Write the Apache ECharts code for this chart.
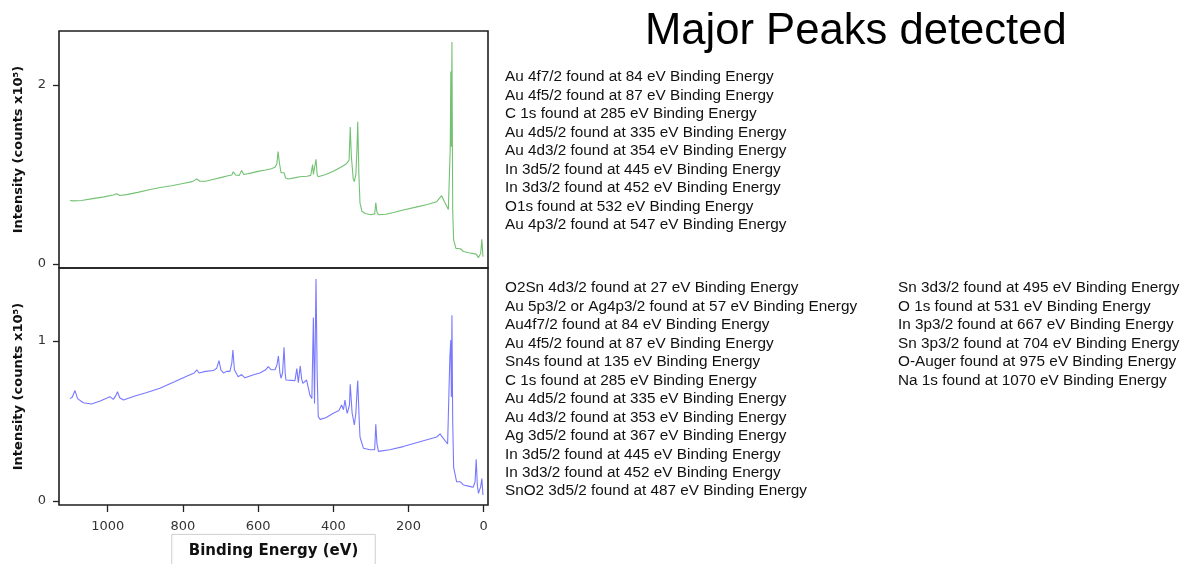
<!DOCTYPE html>
<html>
<head>
<meta charset="utf-8">
<script src="https://cdn.jsdelivr.net/npm/echarts@6/dist/echarts.min.js"></script>
<style>html,body{margin:0;padding:0;background:#fff}#c{width:1182px;height:564px}</style>
</head>
<body>
<div id="c"></div>
<script>
// ---- Data ----
const xTicks = [0, 200, 400, 600, 800, 1000];
const topYTicks = [0, 2];
const bottomYTicks = [0, 1];

const topEnergy = [1100,1090,1070,1040,1010,985,976,968,950,920,890,860,830,800,775,763,755,740,720,700,680,670,666,660,650,644,638,620,600,580,565,555,550,547,543,539,534,531,527,520,500,489,470,460,455,453,450,446,443,440,420,400,380,365,358,355,352,347,344,340,337,335,332,329,324,315,300,290,287,284,280,260,240,214,180,150,125,112,105,94,89,87.5,86,84.5,82.5,80,74,62,58,54,40,20,14,8,5,2];
const topIntensity = [0.71,0.705,0.71,0.73,0.75,0.77,0.785,0.765,0.775,0.80,0.83,0.855,0.875,0.90,0.92,0.95,0.925,0.925,0.945,0.965,0.985,0.995,1.03,0.995,0.99,1.045,1.0,1.015,1.035,1.05,1.065,1.08,1.12,1.255,1.12,1.02,1.0,1.02,0.96,0.95,0.965,0.975,0.98,0.99,1.11,1.0,0.99,1.17,1.0,0.975,1.0,1.035,1.08,1.12,1.16,1.53,1.2,0.95,0.92,1.0,1.3,1.59,1.0,0.68,0.59,0.565,0.55,0.56,0.685,0.58,0.55,0.555,0.575,0.603,0.635,0.665,0.696,0.763,0.70,0.61,1.3,2.15,1.31,2.48,0.6,0.27,0.175,0.17,0.19,0.14,0.125,0.11,0.07,0.12,0.276,0.08];

const bottomEnergy = [1100,1094,1087,1080,1065,1043,1020,1000,994,985,978,974,968,958,930,900,861,821,790,770,763,757,740,719,710,704,699,692,684,675,670,667,663,653,644,635,630,610,595,580,573,565,555,550,546,542,539,535,531,528,526,502,497,493,488,484,481,471,462,457,453,450,446,443,440,435,420,400,385,378,373,369,365,363,357,355,350,344,340,337,335,331,329,320,302,290,287,284,280,250,214,170,125,122,116,112,107,96,90,87.5,86,84.5,82.5,80,72,62,58.5,54,35,28,23,20,17,14,8,5,2];
const bottomIntensity = [0.64,0.65,0.69,0.64,0.614,0.606,0.625,0.645,0.652,0.635,0.66,0.683,0.645,0.631,0.655,0.675,0.704,0.746,0.78,0.80,0.82,0.80,0.81,0.815,0.83,0.877,0.82,0.80,0.81,0.81,0.86,0.944,0.82,0.777,0.79,0.77,0.77,0.79,0.80,0.82,0.84,0.82,0.82,0.85,0.906,0.80,0.767,0.80,0.96,0.80,0.756,0.752,0.827,0.74,0.844,0.76,0.735,0.756,0.66,0.64,1.146,0.61,1.387,0.8,0.527,0.51,0.52,0.548,0.565,0.60,0.57,0.63,0.57,0.548,0.6,0.73,0.55,0.475,0.55,0.68,0.752,0.5,0.40,0.33,0.32,0.32,0.48,0.36,0.31,0.32,0.34,0.37,0.40,0.41,0.42,0.405,0.41,0.356,0.9,1.006,0.65,1.16,0.5,0.21,0.12,0.12,0.13,0.1,0.09,0.086,0.12,0.26,0.1,0.048,0.09,0.14,0.037];

const titleText = 'Major Peaks detected';
const xAxisName = 'Binding Energy (eV)';
const yAxisName = 'Intensity (counts x10\u2075)';

const topPeaks = [
  'Au 4f7/2 found at 84 eV Binding Energy',
  'Au 4f5/2 found at 87 eV Binding Energy',
  'C 1s found at 285 eV Binding Energy',
  'Au 4d5/2 found at 335 eV Binding Energy',
  'Au 4d3/2 found at 354 eV Binding Energy',
  'In 3d5/2 found at 445 eV Binding Energy',
  'In 3d3/2 found at 452 eV Binding Energy',
  'O1s found at 532 eV Binding Energy',
  'Au 4p3/2 found at 547 eV Binding Energy'
];
const bottomPeaksA = [
  'O2Sn 4d3/2 found at 27 eV Binding Energy',
  'Au 5p3/2 or Ag4p3/2 found at 57 eV Binding Energy',
  'Au4f7/2 found at 84 eV Binding Energy',
  'Au 4f5/2 found at 87 eV Binding Energy',
  'Sn4s found at 135 eV Binding Energy',
  'C 1s found at 285 eV Binding Energy',
  'Au 4d5/2 found at 335 eV Binding Energy',
  'Au 4d3/2 found at 353 eV Binding Energy',
  'Ag 3d5/2 found at 367 eV Binding Energy',
  'In 3d5/2 found at 445 eV Binding Energy',
  'In 3d3/2 found at 452 eV Binding Energy',
  'SnO2 3d5/2 found at 487 eV Binding Energy'
];
const bottomPeaksB = [
  'Sn 3d3/2 found at 495 eV Binding Energy',
  'O 1s found at 531 eV Binding Energy',
  'In 3p3/2 found at 667 eV Binding Energy',
  'Sn 3p3/2 found at 704 eV Binding Energy',
  'O-Auger found at 975 eV Binding Energy',
  'Na 1s found at 1070 eV Binding Energy'
];

// ---- Chart ----
const pairs = (xs, ys) => xs.map((x, i) => [x, ys[i]]);
const MPL = 'DejaVu Sans';
const ARIAL = 'Liberation Sans';

function xAxisCfg(gridIndex, showLabels) {
  return {
    type: 'value', gridIndex, min: -11.4, max: 1129.5, inverse: true,
    axisLine: { show: false, onZero: false },
    splitLine: { show: false },
    axisTick: { show: showLabels, customValues: xTicks, length: 7, lineStyle: { color: '#222', width: 1.3 } },
    axisLabel: { show: showLabels, customValues: xTicks, margin: 15, fontFamily: MPL, fontSize: 13, color: '#333',
      formatter: v => String(v) },
    name: showLabels ? xAxisName : '',
    nameLocation: 'middle', nameGap: 29,
    nameTextStyle: { fontFamily: MPL, fontSize: 15, fontWeight: 'bold', color: '#111',
      borderColor: '#cfcfcf', borderWidth: 1, padding: [9, 17, 16, 17] }
  };
}
function yAxisCfg(gridIndex, min, max, ticks) {
  return {
    type: 'value', gridIndex, min, max,
    axisLine: { show: false, onZero: false },
    splitLine: { show: false },
    axisTick: { show: true, customValues: ticks, length: 6, lineStyle: { color: '#222', width: 1.3 } },
    axisLabel: { customValues: ticks, margin: 13, fontFamily: MPL, fontSize: 13, color: '#333',
      formatter: v => String(v) },
    name: yAxisName, nameLocation: 'middle', nameGap: 34, nameRotate: 90,
    nameTextStyle: { fontFamily: MPL, fontSize: 13, fontWeight: 'bold', color: '#111' }
  };
}

const chart = echarts.init(document.getElementById('c'), null, { renderer: 'canvas' });
chart.setOption({
  animation: false,
  backgroundColor: '#fff',
  title: [
    { text: titleText, left: 645, top: 10, padding: 0,
      textStyle: { fontFamily: ARIAL, fontSize: 43.6, fontWeight: 'normal', color: '#000' } },
    { text: topPeaks.join('\n'), left: 505, top: 68, padding: 0,
      textStyle: { fontFamily: ARIAL, fontSize: 15.3, lineHeight: 18.5, fontWeight: 'normal', color: '#111' } },
    { text: bottomPeaksA.join('\n'), left: 505, top: 279, padding: 0,
      textStyle: { fontFamily: ARIAL, fontSize: 15.3, lineHeight: 18.45, fontWeight: 'normal', color: '#111' } },
    { text: bottomPeaksB.join('\n'), left: 898, top: 279, padding: 0,
      textStyle: { fontFamily: ARIAL, fontSize: 15.3, lineHeight: 18.45, fontWeight: 'normal', color: '#111' } }
  ],
  grid: [
    { left: 59, top: 31, width: 429, height: 237, outerBoundsMode: 'none', containLabel: false,
      show: true, borderColor: '#1e1e1e', borderWidth: 1.6, backgroundColor: 'transparent' },
    { left: 59, top: 268, width: 429, height: 237, outerBoundsMode: 'none', containLabel: false,
      show: true, borderColor: '#1e1e1e', borderWidth: 1.6, backgroundColor: 'transparent' }
  ],
  xAxis: [xAxisCfg(0, false), xAxisCfg(1, true)],
  yAxis: [yAxisCfg(0, -0.0447, 2.603, topYTicks), yAxisCfg(1, -0.025, 1.456, bottomYTicks)],
  series: [
    { type: 'line', xAxisIndex: 0, yAxisIndex: 0, data: pairs(topEnergy, topIntensity),
      showSymbol: false, lineStyle: { color: 'rgba(40,160,40,0.65)', width: 1.1 } },
    { type: 'line', xAxisIndex: 1, yAxisIndex: 1, data: pairs(bottomEnergy, bottomIntensity),
      showSymbol: false, lineStyle: { color: 'rgba(30,30,255,0.6)', width: 1.1 } }
  ]
});
</script>
</body>
</html>
